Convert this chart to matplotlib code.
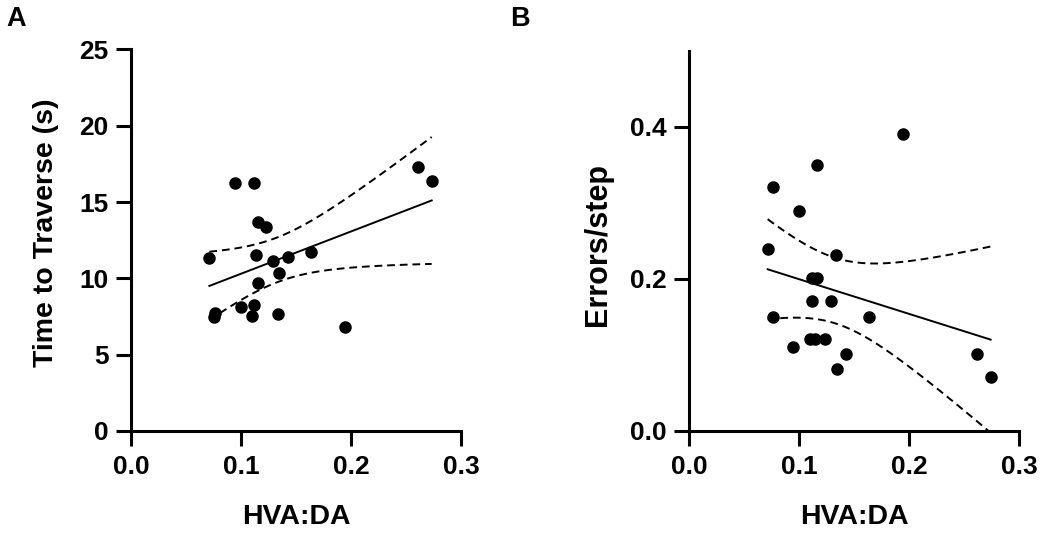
import numpy as np
import matplotlib
matplotlib.use("Agg")
import matplotlib.pyplot as plt
from matplotlib.ticker import FormatStrFormatter

plt.rcParams['font.family'] = ['Liberation Sans', 'DejaVu Sans']
plt.rcParams['font.weight'] = 'bold'

# Panel A: time to traverse vs HVA:DA
hva_da_a = [0.0712, 0.0945, 0.1120, 0.1158, 0.1227, 0.1136, 0.1288, 0.1424, 0.1636, 0.1348,
            0.1158, 0.0764, 0.0758, 0.0997, 0.1118, 0.1097, 0.1333, 0.1945, 0.2612, 0.2733]
traverse_time = [11.32, 16.27, 16.23, 13.72, 13.35, 11.53, 11.16, 11.42, 11.71, 10.37,
                 9.68, 7.75, 7.49, 8.15, 8.26, 7.54, 7.67, 6.79, 17.32, 16.40]

# Panel B: errors per step vs HVA:DA
hva_da_b = [0.1948, 0.1161, 0.0761, 0.1000, 0.0715, 0.1336, 0.1115, 0.1167, 0.1121, 0.1290,
            0.0767, 0.1639, 0.1100, 0.1145, 0.1236, 0.0948, 0.1427, 0.1348, 0.2615, 0.2742]
errors_step = [0.391, 0.350, 0.321, 0.290, 0.240, 0.231, 0.201, 0.201, 0.171, 0.171,
               0.150, 0.150, 0.121, 0.121, 0.121, 0.111, 0.101, 0.081, 0.101, 0.071]

x_ticks = [0.0, 0.1, 0.2, 0.3]
T_CRIT = 2.101  # t(0.975, df=18)


def fit_with_band(x, y):
    x = np.asarray(x)
    y = np.asarray(y)
    n = len(x)
    slope, intercept = np.polyfit(x, y, 1)
    resid = y - (slope * x + intercept)
    s = np.sqrt(np.sum(resid ** 2) / (n - 2))
    xs = np.linspace(x.min(), x.max(), 100)
    ys = slope * xs + intercept
    se = s * np.sqrt(1.0 / n + (xs - x.mean()) ** 2 / np.sum((x - x.mean()) ** 2))
    return xs, ys, ys - T_CRIT * se, ys + T_CRIT * se


def style_axis(ax):
    for side in ['top', 'right']:
        ax.spines[side].set_visible(False)
    for side in ['left', 'bottom']:
        ax.spines[side].set_linewidth(2.2)
    ax.tick_params(width=2.2, length=11, labelsize=19, pad=5)
    ax.tick_params(axis='x', pad=6)
    ax.set_xlim(0, 0.3)
    ax.set_xticks(x_ticks)
    ax.xaxis.set_major_formatter(FormatStrFormatter('%.1f'))
    ax.set_xlabel('HVA:DA', fontsize=20.5, fontweight='bold', labelpad=18)


def draw_panel(ax, x, y):
    xs, ys, lo, hi = fit_with_band(x, y)
    ax.plot(xs, ys, color='black', lw=1.4, zorder=2)
    ax.plot(xs, lo, color='black', lw=1.4, ls=(0, (4, 2.5)), zorder=2)
    ax.plot(xs, hi, color='black', lw=1.4, ls=(0, (4, 2.5)), zorder=2)
    ax.scatter(x, y, s=64, color='black', zorder=3, clip_on=False)


fig = plt.figure(figsize=(10.5, 5.36), dpi=100)
ax_a = fig.add_axes([0.1248, 0.1959, 0.3143, 0.7118])
ax_b = fig.add_axes([0.6562, 0.1959, 0.3143, 0.709])

draw_panel(ax_a, hva_da_a, traverse_time)
style_axis(ax_a)
ax_a.set_ylim(0, 25)
ax_a.set_yticks([0, 5, 10, 15, 20, 25])
ax_a.set_ylabel('Time to Traverse (s)', fontsize=20.5, fontweight='bold', labelpad=15)
ax_a.yaxis.label.set_y(0.52)

draw_panel(ax_b, hva_da_b, errors_step)
style_axis(ax_b)
ax_b.set_ylim(0, 0.5)
ax_b.set_yticks([0.0, 0.2, 0.4])
ax_b.yaxis.set_major_formatter(FormatStrFormatter('%.1f'))
ax_b.set_ylabel('Errors/step', fontsize=22, fontweight='bold', labelpad=12)
ax_b.yaxis.label.set_y(0.49)

fig.text(0.006, 0.965, 'A', fontsize=19.5, fontweight='bold', va='center')
fig.text(0.486, 0.965, 'B', fontsize=19.5, fontweight='bold', va='center')

fig.savefig('out.png', dpi=100)
